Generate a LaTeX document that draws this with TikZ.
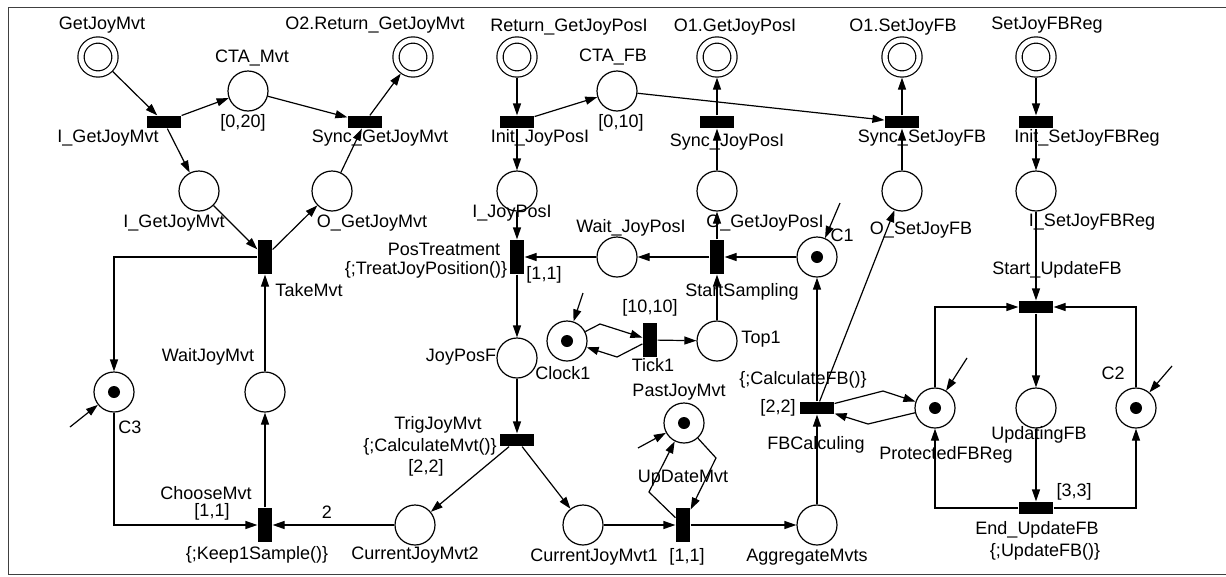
\documentclass[tikz,border=0pt]{standalone}
\usepackage{fontspec}
\setmainfont{Liberation Sans}
\usetikzlibrary{arrows.meta}

\begin{document}
\begin{tikzpicture}[->, x = 1pt, y = -1pt, line width = 1.2pt, >={Triangle[length = 12pt, width = 8pt]},
	place/.style = {draw, circle, minimum size = 40pt, inner sep = 0},
	port/.style = {draw, circle, double, double distance = 5pt, minimum size = 34pt, inner sep = 0, outer sep = 3.6pt},
	marked/.style = {place, path picture = {\fill (path picture bounding box.center) circle (6pt);}},
	hbar/.style = {fill, rectangle, minimum width = 34pt, minimum height = 12pt, inner sep = 0},
	vbar/.style = {fill, rectangle, minimum width = 14pt, minimum height = 34pt, inner sep = 0},
	txt/.style = {inner sep = 0, font = \fontsize{18}{20}\selectfont}]

	\useasboundingbox (0, 0) rectangle (1226, 576);
	\draw [-, line width = 1pt, black!75] (1226, 7) -- (8, 7) -- (8, 574) -- (1226, 574);

	\node [port] (GetJoyMvt) at (98, 57) {};
	\node [port] (RetGetJoyMvt) at (413, 57) {};
	\node [port] (RetGetJoyPos) at (517, 57) {};
	\node [port] (GetJoyPos) at (717, 57) {};
	\node [port] (SetJoyFB) at (902, 57) {};
	\node [port] (SetJoyFBReg) at (1036, 57) {};

	\node [place] (CTAMvt) at (248, 91) {};
	\node [place] (CTAFB) at (617, 91) {};
	\node [place] (IGetJoyMvt) at (199, 191) {};
	\node [place] (OGetJoyMvt) at (332, 191) {};
	\node [place] (IJoyPos) at (517, 191) {};
	\node [place] (OGetJoyPos) at (717, 191) {};
	\node [place] (OSetJoyFB) at (902, 191) {};
	\node [place] (ISetJoyFBReg) at (1036, 191) {};
	\node [place] (WaitJoyPos) at (617, 257) {};
	\node [marked] (C1) at (817, 257) {};
	\node [marked] (Clock1) at (567, 341) {};
	\node [place] (Top1) at (717, 341) {};
	\node [place] (JoyPosF) at (517, 358) {};
	\node [marked] (C3) at (114, 392) {};
	\node [place] (WaitJoyMvt) at (265, 392) {};
	\node [marked] (ProtFBReg) at (935, 408) {};
	\node [place] (UpdatingFB) at (1036, 408) {};
	\node [marked] (C2) at (1136, 408) {};
	\node [marked] (PastJoyMvt) at (684, 423) {};
	\node [place] (CurJoyMvt2) at (415, 525) {};
	\node [place] (CurJoyMvt1) at (583, 525) {};
	\node [place] (AggrMvts) at (817, 525) {};

	\node [hbar] (tIGetJoyMvt) at (164, 122) {};
	\node [hbar] (tSyncGetJoyMvt) at (365, 122) {};
	\node [hbar] (tInitJoyPos) at (517, 122) {};
	\node [hbar] (tSyncJoyPos) at (717, 122) {};
	\node [hbar] (tSyncSetJoyFB) at (902, 122) {};
	\node [hbar] (tInitSetJoyFBReg) at (1036, 122) {};
	\node [vbar] (tTakeMvt) at (265, 257) {};
	\node [vbar] (tPosTreat) at (517, 257) {};
	\node [vbar] (tStartSampl) at (717, 257) {};
	\node [hbar] (tStartUpd) at (1036, 307) {};
	\node [vbar] (tTick1) at (650, 340) {};
	\node [hbar] (tFBCalc) at (817, 408) {};
	\node [hbar] (tTrigJoyMvt) at (517, 440) {};
	\node [hbar] (tEndUpd) at (1036, 508) {};
	\node [vbar] (tChooseMvt) at (265, 525) {};
	\node [vbar] (tUpDateMvt) at (683, 525) {};

	\coordinate (mC3) at (70, 427);
	\coordinate (mC1) at (840, 203);
	\coordinate (mClock1) at (583, 293);
	\coordinate (mPastJoyMvt) at (638, 448);
	\coordinate (mProtFBReg) at (967, 358);
	\coordinate (mC2) at (1172, 366);

	\draw (mC3) to (C3);
	\draw (mC1) to (C1);
	\draw (mClock1) to (Clock1);
	\draw (mPastJoyMvt) to (PastJoyMvt);
	\draw (mProtFBReg) to (ProtFBReg);
	\draw (mC2) to (C2);

	\draw (GetJoyMvt) to (tIGetJoyMvt);
	\draw (tIGetJoyMvt) to (CTAMvt);
	\draw (tIGetJoyMvt) to (IGetJoyMvt);
	\draw (CTAMvt) to (tSyncGetJoyMvt);
	\draw (tSyncGetJoyMvt) to (RetGetJoyMvt);
	\draw (IGetJoyMvt) to (tTakeMvt);
	\draw (tTakeMvt) to (OGetJoyMvt);
	\draw (OGetJoyMvt) to (tSyncGetJoyMvt);
	\draw (tTakeMvt.west) -| (C3);
	\draw (C3) |- (tChooseMvt);
	\draw (CurJoyMvt2) to (tChooseMvt);
	\draw (tChooseMvt) to (WaitJoyMvt);
	\draw (WaitJoyMvt) to (tTakeMvt);

	\draw (RetGetJoyPos) to (tInitJoyPos);
	\draw (tInitJoyPos) to (CTAFB);
	\draw (tInitJoyPos) to (IJoyPos);
	\draw (CTAFB) to (tSyncSetJoyFB);
	\draw (IJoyPos) to (tPosTreat);
	\draw (WaitJoyPos) to (tPosTreat);
	\draw (tPosTreat) to (JoyPosF);
	\draw (tStartSampl) to (WaitJoyPos);
	\draw (C1) to (tStartSampl);
	\draw (Top1) to (tStartSampl);
	\draw (tStartSampl) to (OGetJoyPos);
	\draw (OGetJoyPos) to (tSyncJoyPos);
	\draw (tSyncJoyPos) to (GetJoyPos);
	\draw (Clock1) -- (600, 324) -- (tTick1);
	\draw (tTick1) -- (617, 357) -- (Clock1);
	\draw (tTick1) to (Top1);

	\draw (JoyPosF) to (tTrigJoyMvt);
	\draw (tTrigJoyMvt) to (CurJoyMvt2);
	\draw (tTrigJoyMvt) to (CurJoyMvt1);
	\draw (CurJoyMvt1) to (tUpDateMvt);
	\draw (tUpDateMvt) -- (649, 492) -- (PastJoyMvt);
	\draw (PastJoyMvt) -- (716, 458) -- (tUpDateMvt);
	\draw (tUpDateMvt) to (AggrMvts);
	\draw (AggrMvts) to (tFBCalc);
	\draw (tFBCalc) to (C1);
	\draw (tFBCalc) to (OSetJoyFB);
	\draw (tFBCalc) -- (883, 391) -- (ProtFBReg);
	\draw (ProtFBReg) -- (868, 424) -- (tFBCalc);
	\draw (OSetJoyFB) to (tSyncSetJoyFB);
	\draw (tSyncSetJoyFB) to (SetJoyFB);

	\draw (SetJoyFBReg) to (tInitSetJoyFBReg);
	\draw (tInitSetJoyFBReg) to (ISetJoyFBReg);
	\draw (ISetJoyFBReg) to (tStartUpd);
	\draw (ProtFBReg) |- (tStartUpd);
	\draw (C2) |- (tStartUpd);
	\draw (tStartUpd) to (UpdatingFB);
	\draw (UpdatingFB) to (tEndUpd);
	\draw (tEndUpd) -| (ProtFBReg);
	\draw (tEndUpd) -| (C2);

	\node [txt] (lGetJoyMvt) at (102, 25) {GetJoyMvt};
	\node [txt] (lRetGetJoyMvt) at (375, 25) {O2.Return\_GetJoyMvt};
	\node [txt] (lRetGetJoyPos) at (569, 27) {Return\_GetJoyPosI};
	\node [txt] (lGetJoyPos) at (735, 27) {O1.GetJoyPosI};
	\node [txt] (lSetJoyFB) at (903, 27) {O1.SetJoyFB};
	\node [txt] (lSetJoyFBReg) at (1047, 25) {SetJoyFBReg};
	\node [txt] (lCTAMvt) at (252, 58) {CTA\_Mvt};
	\node [txt] (lCTAFB) at (613, 57) {CTA\_FB};
	\node [txt] (lCTAMvtTime) at (243, 123) {[0,20]};
	\node [txt] (lCTAFBTime) at (621, 123) {[0,10]};
	\node [txt] (ltIGetJoyMvt) at (108, 138) {I\_GetJoyMvt};
	\node [txt] (ltSyncGetJoyMvt) at (380, 138) {Sync\_GetJoyMvt};
	\node [txt] (ltInitJoyPos) at (540, 138) {Init\_JoyPosI};
	\node [txt] (ltSyncJoyPos) at (727, 142) {Sync\_JoyPosI};
	\node [txt] (ltSyncSetJoyFB) at (922, 138) {Sync\_SetJoyFB};
	\node [txt] (ltInitSetJoyFBReg) at (1087, 138) {Init\_SetJoyFBReg};
	\node [txt] (lIGetJoyMvt) at (174, 223) {I\_GetJoyMvt};
	\node [txt] (lOGetJoyMvt) at (372, 223) {O\_GetJoyMvt};
	\node [txt] (lIJoyPos) at (512, 213) {I\_JoyPosI};
	\node [txt] (lWaitJoyPos) at (631, 228) {Wait\_JoyPosI};
	\node [txt] (lOGetJoyPos) at (765, 223) {O\_GetJoyPosI};
	\node [txt] (lC1) at (842, 235) {C1};
	\node [txt] (lOSetJoyFB) at (921, 230) {O\_SetJoyFB};
	\node [txt] (lISetJoyFBReg) at (1092, 222) {I\_SetJoyFBReg};
	\node [txt] (ltPosTreat) at (444, 249) {PosTreatment};
	\node [txt] (ltPosTreatAct) at (426, 270) {\{;TreatJoyPosition()\}};
	\node [txt] (ltPosTreatTime) at (544, 275) {[1,1]};
	\node [txt] (ltStartUpd) at (1057, 270) {Start\_UpdateFB};
	\node [txt] (ltTakeMvt) at (309, 290) {TakeMvt};
	\node [txt] (ltStartSampl) at (742, 292) {StartSampling};
	\node [txt] (ltTick1Time) at (650, 308) {[10,10]};
	\node [txt] (lTop1) at (761, 339) {Top1};
	\node [txt] (lJoyPosF) at (461, 357) {JoyPosF};
	\node [txt] (ltTick1) at (653, 365) {Tick1};
	\node [txt] (lClock1) at (563, 373) {Clock1};
	\node [txt] (lC2) at (1113, 373) {C2};
	\node [txt] (lWaitJoyMvt) at (208, 357) {WaitJoyMvt};
	\node [txt] (ltFBCalcAct) at (803, 380) {\{;CalculateFB()\}};
	\node [txt] (lPastJoyMvt) at (679, 392) {PastJoyMvt};
	\node [txt] (ltFBCalcTime) at (778, 408) {[2,2]};
	\node [txt] (lC3) at (130, 427) {C3};
	\node [txt] (ltTrigJoyMvt) at (438, 425) {TrigJoyMvt};
	\node [txt] (lUpdatingFB) at (1039, 435) {UpdatingFB};
	\node [txt] (ltFBCalc) at (816, 445) {FBCalculing};
	\node [txt] (ltTrigJoyMvtAct) at (430, 447) {\{;CalculateMvt()\}};
	\node [txt] (lProtFBReg) at (946, 455) {ProtectedFBReg};
	\node [txt] (ltTrigJoyMvtTime) at (426, 468) {[2,2]};
	\node [txt] (ltUpDateMvt) at (683, 478) {UpDateMvt};
	\node [txt] (ltChooseMvt) at (206, 493) {ChooseMvt};
	\node [txt] (ltEndUpdTime) at (1074, 492) {[3,3]};
	\node [txt] (ltChooseMvtTime) at (212, 512) {[1,1]};
	\node [txt] (lWeight) at (327, 512) {2};
	\node [txt] (ltEndUpd) at (1037, 530) {End\_UpdateFB};
	\node [txt] (ltChooseMvtAct) at (257, 555) {\{;Keep1Sample()\}};
	\node [txt] (lCurJoyMvt2) at (415, 555) {CurrentJoyMvt2};
	\node [txt] (lCurJoyMvt1) at (594, 557) {CurrentJoyMvt1};
	\node [txt] (ltUpDateMvtTime) at (687, 557) {[1,1]};
	\node [txt] (lAggrMvts) at (807, 557) {AggregateMvts};
	\node [txt] (ltEndUpdAct) at (1045, 552) {\{;UpdateFB()\}};
\end{tikzpicture}
\end{document}
